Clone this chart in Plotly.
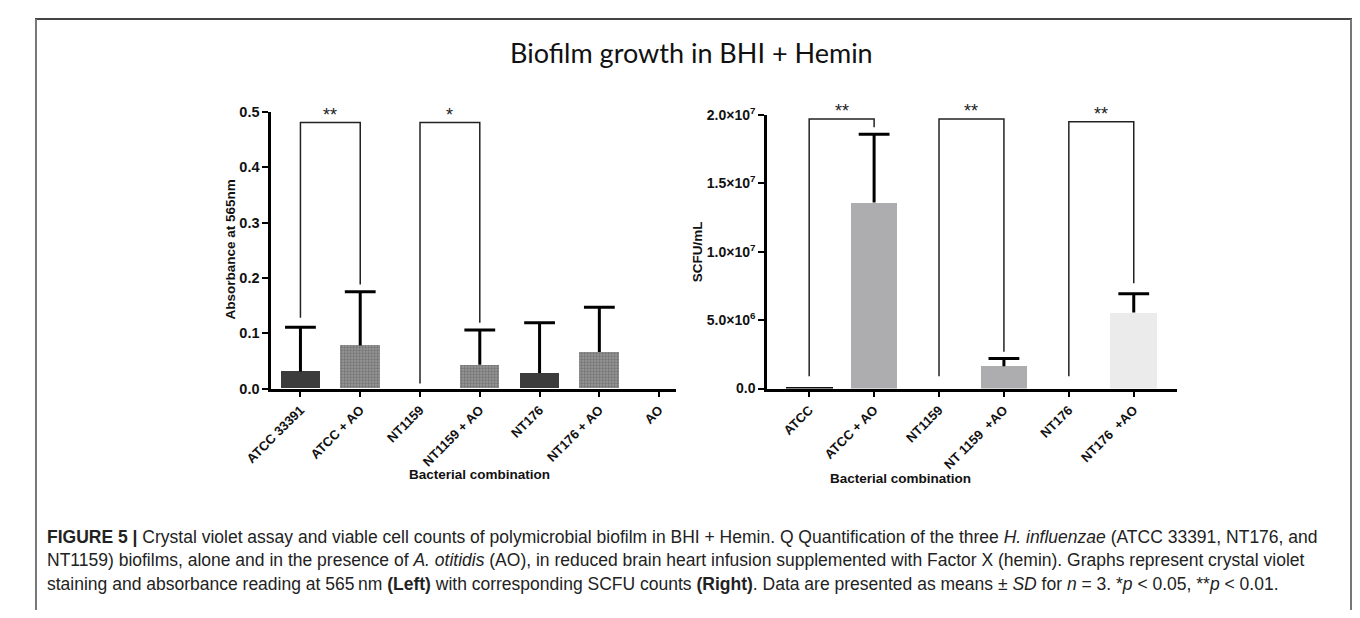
import plotly.graph_objects as go

# page is 1360x618; the html body adds an 8px margin, so the figure is 1344x602
PW, PH = 1360, 618
OFF = 8
W, H = PW - 2 * OFF, PH - 2 * OFF

# ---------------- data ----------------
cats_left = ["ATCC 33391", "ATCC + AO", "NT1159", "NT1159 + AO", "NT176", "NT176 + AO", "AO"]
abs_mean = [0.031, 0.078, 0.0, 0.043, 0.028, 0.066, 0.0]
abs_sd = [0.080, 0.097, None, 0.063, 0.091, 0.081, None]
left_colors = ["#3c3c3c", "#9a9a9a", "#3c3c3c", "#9a9a9a", "#3c3c3c", "#9a9a9a", "#3c3c3c"]
left_pattern = ["", ".", "", ".", "", ".", ""]

cats_right = ["ATCC", "ATCC + AO", "NT1159", "NT 1159  +AO", "NT176", "NT176  +AO"]
scfu_mean = [1.5e5, 13.6e6, 0.0, 1.63e6, 0.0, 5.56e6]
scfu_sd = [None, 5.0e6, None, 0.57e6, None, 1.38e6]
right_colors = ["#111111", "#adadb0", "#adadb0", "#adadb0", "#ebebeb", "#ebebeb"]

left_ticks = [0.0, 0.1, 0.2, 0.3, 0.4, 0.5]
right_ticks = [0, 5e6, 1e7, 1.5e7, 2e7]
right_ticktext = ["0.0", "5.0×10<sup>6</sup>", "1.0×10<sup>7</sup>", "1.5×10<sup>7</sup>", "2.0×10<sup>7</sup>"]

# brackets: (i, j, top, left_leg_bottom, right_leg_bottom, label)
left_brackets = [(0, 1, 0.481, 0.128, 0.188, "**"), (2, 3, 0.481, 0.009, 0.119, "*")]
right_brackets = [(0, 1, 19.7e6, 0.9e6, 19.1e6, "**"), (2, 3, 19.7e6, 0.9e6, 2.7e6, "**"),
                  (4, 5, 19.5e6, 0.9e6, 7.7e6, "**")]

title_text = "Biofilm growth in BHI + Hemin"
caption_lines = [
    "<b>FIGURE 5 |</b> Crystal violet assay and viable cell counts of polymicrobial biofilm in BHI + Hemin. Q Quantification of the three <i>H. influenzae</i> (ATCC 33391, NT176, and",
    "NT1159) biofilms, alone and in the presence of <i>A. otitidis</i> (AO), in reduced brain heart infusion supplemented with Factor X (hemin). Graphs represent crystal violet",
    "staining and absorbance reading at 565\u2009nm <b>(Left)</b> with corresponding SCFU counts <b>(Right)</b>. Data are presented as means ± <i>SD</i> for <i>n</i> = 3. *<i>p</i> < 0.05, **<i>p</i> < 0.01.",
]


def px(x):
    return (x - OFF) / W


def py(y):
    return 1 - (y - OFF) / H


fig = go.Figure()

# bars
fig.add_trace(go.Bar(
    x=list(range(len(cats_left))), y=abs_mean, width=0.66,
    marker=dict(color=left_colors, line=dict(width=0),
                pattern=dict(shape=left_pattern, size=3, solidity=0.45, fgcolor="#4a4a4a")),
    xaxis="x", yaxis="y", showlegend=False, hoverinfo="skip"))

fig.add_trace(go.Bar(
    x=list(range(len(cats_right))), y=scfu_mean, width=0.72,
    marker=dict(color=right_colors, line=dict(width=0)),
    xaxis="x2", yaxis="y2", showlegend=False, hoverinfo="skip"))


# upward-only error bars (stem + cap at top, no cap at bar top)
def err_trace(means, sds, xa, ya):
    idx = [i for i, s in enumerate(sds) if s is not None]
    return go.Scatter(
        x=idx, y=[means[i] + sds[i] for i in idx], mode="markers",
        marker=dict(symbol="line-ew", size=22, line=dict(width=3, color="#000"), color="#000"),
        error_y=dict(type="data", symmetric=False, array=[0] * len(idx),
                     arrayminus=[sds[i] for i in idx], width=0, thickness=3, color="#000"),
        xaxis=xa, yaxis=ya, showlegend=False, hoverinfo="skip")


fig.add_trace(err_trace(abs_mean, abs_sd, "x", "y"))
fig.add_trace(err_trace(scfu_mean, scfu_sd, "x2", "y2"))

tickfont_x = dict(family="Liberation Sans, Arial", size=13, color="#111", weight="bold")
tickfont_yl = dict(family="Liberation Sans, Arial", size=14.5, color="#111", weight="bold")
tickfont_yr = dict(family="Liberation Sans, Arial", size=14, color="#111", weight="bold")
axcommon = dict(showline=True, linecolor="#000", linewidth=2.5, ticks="outside", ticklen=6,
                tickwidth=2, tickcolor="#000", showgrid=False, zeroline=False)

fig.update_layout(
    width=W, height=H, margin=dict(l=0, r=0, t=0, b=0),
    paper_bgcolor="white", plot_bgcolor="white", bargap=0,
    xaxis=dict(domain=[px(249), px(662)], range=[-0.49, 6.28], anchor="y", tickfont=tickfont_x,
               tickvals=list(range(len(cats_left))), ticktext=cats_left, tickangle=-45, **axcommon),
    yaxis=dict(domain=[py(390), py(105)], range=[0, 0.5], anchor="x", tickfont=tickfont_yl,
               tickvals=left_ticks, ticktext=[f"{v:.1f}" for v in left_ticks], **axcommon),
    xaxis2=dict(domain=[px(755), px(1173)], range=[-0.65, 5.66], anchor="y2", tickfont=tickfont_x,
                tickvals=list(range(len(cats_right))), ticktext=cats_right, tickangle=-45, **axcommon),
    yaxis2=dict(domain=[py(390), py(108)], range=[0, 2e7], anchor="x2", tickfont=tickfont_yr,
                tickvals=right_ticks, ticktext=right_ticktext, **axcommon),
)

shapes = []
annotations = []


def add_brackets(brs, xref, yref):
    for i, j, top, lb, rb, lab in brs:
        shapes.append(dict(type="path", xref=xref, yref=yref,
                           path=f"M {i} {lb} L {i} {top} L {j} {top} L {j} {rb}",
                           line=dict(color="#222", width=1.5)))
        annotations.append(dict(x=(i + j) / 2, y=top, xref=xref, yref=yref, text=lab,
                                showarrow=False, yanchor="bottom", yshift=-4,
                                font=dict(family="Liberation Sans, Arial", size=18, color="#222")))


add_brackets(left_brackets, "x", "y")
add_brackets(right_brackets, "x2", "y2")

# frame
shapes.append(dict(type="line", xref="paper", yref="paper", x0=px(8), x1=px(1352), y0=py(9), y1=py(9),
                   line=dict(color="#444", width=2)))
shapes.append(dict(type="line", xref="paper", yref="paper", x0=px(9), x1=px(9), y0=py(9), y1=py(640),
                   line=dict(color="#777", width=2)))
shapes.append(dict(type="line", xref="paper", yref="paper", x0=px(1351), x1=px(1351), y0=py(9), y1=py(640),
                   line=dict(color="#777", width=2)))

# title
annotations.append(dict(x=px(678), y=py(44), xref="paper", yref="paper", text=title_text,
                        showarrow=False, xanchor="center", yanchor="middle",
                        font=dict(family="Lato, Open Sans", size=27, color="#111")))

# axis titles
axt = dict(family="Liberation Sans, Arial", size=13.5, color="#111", weight="bold")
annotations.append(dict(x=px(198), y=py(247), xref="paper", yref="paper", text="Absorbance at 565nm",
                        textangle=-90, showarrow=False, font=axt))
annotations.append(dict(x=px(684), y=py(249), xref="paper", yref="paper", text="SCFU/mL",
                        textangle=-90, showarrow=False, font=axt))
annotations.append(dict(x=px(462), y=py(488), xref="paper", yref="paper", text="Bacterial combination",
                        showarrow=False, font=axt))
annotations.append(dict(x=px(965), y=py(492), xref="paper", yref="paper", text="Bacterial combination",
                        showarrow=False, font=axt))

# caption
for k, line in enumerate(caption_lines):
    annotations.append(dict(x=px(18), y=py(543 + 24 * k), xref="paper", yref="paper", text=line,
                            showarrow=False, xanchor="left", yanchor="middle", align="left",
                            font=dict(family="Liberation Sans, Arial", size=17.5, color="#222")))

fig.update_layout(shapes=shapes, annotations=annotations)
fig.write_html("out.html")
